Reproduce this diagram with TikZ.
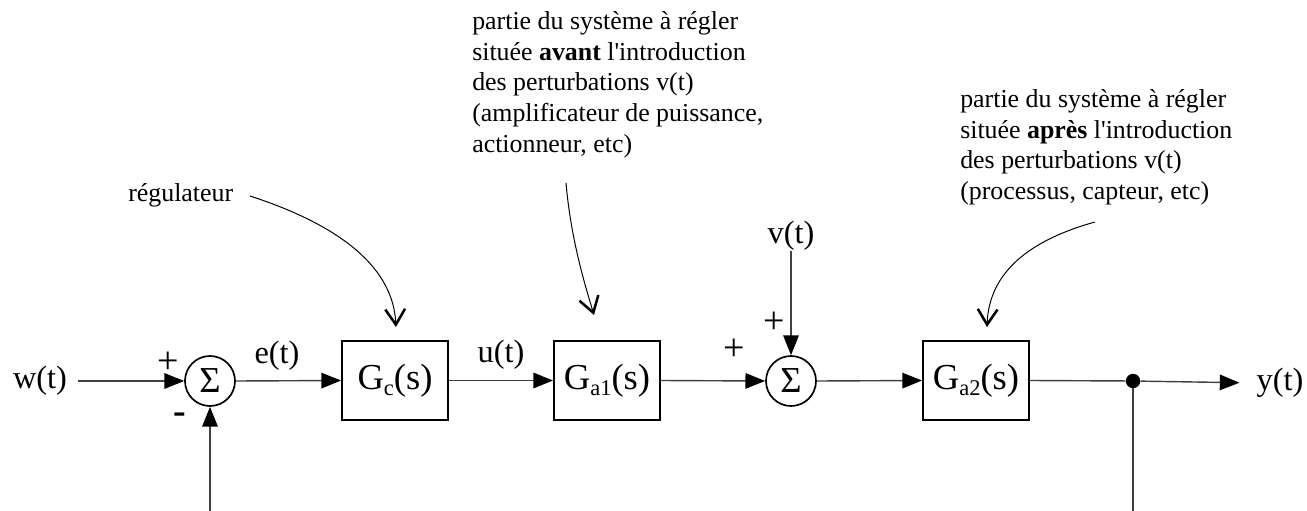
\documentclass[tikz,border=0pt]{standalone}
\usepackage{fontspec}
\setmainfont{Liberation Serif}[Ligatures=TeXOff]
\usetikzlibrary{arrows.meta}
% lowered index inside a block label, e.g. G_c(s)
\newcommand{\blocksub}[1]{\raisebox{-0.38ex}{\fontsize{16}{16}\selectfont #1}}

\begin{document}
\begin{tikzpicture}[x=0.025cm, y=-0.025cm,
  sig/.style={font=\fontsize{23}{27}\selectfont, inner sep=0pt},
  note/.style={font=\fontsize{18.4}{21.9}\selectfont, align=left, inner sep=0pt, anchor=north west},
  blockbox/.style={draw, line width=1.3pt, minimum width=2.65cm, minimum height=1.975cm,
                   inner sep=0pt, font=\fontsize{26}{30}\selectfont},
  sumnode/.style={circle, draw, line width=1.2pt, minimum size=1.25cm, inner sep=0pt,
                  font=\fontsize{26}{30}\selectfont},
  conn/.style={line width=1pt, draw=black!75},
  tip/.style={-{Triangle[length=14pt,width=11pt,color=black]}},
  sign/.style={font=\fontsize{27}{27}\selectfont, inner sep=0pt},
  callout/.style={line width=0.7pt, -{Straight Barb[length=11pt,width=14pt,line width=1.8pt]}},
  joint/.style={circle, fill=black, minimum size=0.36cm, inner sep=0pt}
]
\useasboundingbox (0,0) rectangle (1307,511);

% blocks and summing junctions
\node[sig] (w) at (40,381) {w(t)};
\node[sumnode] (s1) at (210,381) {Σ};
\node[blockbox] (gc) at (395,380.5) {G\blocksub{c}(s)};
\node[blockbox] (ga1) at (607,380.5) {G\blocksub{a1}(s)};
\node[sumnode] (s2) at (791,381) {Σ};
\node[blockbox] (ga2) at (976,380.5) {G\blocksub{a2}(s)};
\node[joint] (dot) at (1133,381) {};
\node[sig] (y) at (1280,383) {y(t)};
\node[sig] (v) at (791,236) {v(t)};

% signal names
\node[sig] (e) at (277,356) {e(t)};
\node[sig] (u) at (501,355) {u(t)};

% signs at the summing junctions
\node[sign] (p1) at (168,363) {+};
\node[sign] (m1) at (180,418) {\textbf{-}};
\node[sign] (p2) at (734,350) {+};
\node[sign] (p3) at (774,323) {+};

% forward path
\draw[conn,tip,shorten <=8pt] (w.east) -- (s1.west);
\draw[conn,tip] (s1.east) -- (gc.west);
\draw[conn,tip] (gc.east) -- (ga1.west);
\draw[conn,tip] (ga1.east) -- (s2.west);
\draw[conn,tip] (v.south) -- (s2.north);
\draw[conn,tip] (s2.east) -- (ga2.west);
\draw[conn] (ga2.east) -- (dot);
\draw[conn,tip,shorten >=12pt] (dot) -- (y.west);

% feedback branches
\coordinate (fbR) at (1133,511);
\coordinate (fbL) at (210,511);
\draw[conn] (dot) -- (fbR);
\draw[conn,tip] (fbL) -- (s1.south);

% explanatory notes
\node[note] (reg) at (128,183) {régulateur};
\node[note] (avant) at (472,11) {partie du système à régler\\
  située \textbf{avant} l'introduction\\
  des perturbations v(t)\\
  (amplificateur de puissance,\\
  actionneur, etc)};
\node[note] (apres) at (960,89) {partie du système à régler\\
  située \textbf{après} l'introduction\\
  des perturbations v(t)\\
  (processus, capteur, etc)};

% pointers from the notes to the blocks
\coordinate (c1a) at (250,196);
\coordinate (c1b) at (396,327);
\coordinate (c2a) at (566,183);
\coordinate (c2b) at (594,315);
\coordinate (c3a) at (1095,222);
\coordinate (c3b) at (987,327);
\draw[callout] (c1a) .. controls (330,222) and (393,262) .. (c1b);
\draw[callout] (c2a) .. controls (571,240) and (585,285) .. (c2b);
\draw[callout] (c3a) .. controls (1030,240) and (989,272) .. (c3b);
\end{tikzpicture}
\end{document}
